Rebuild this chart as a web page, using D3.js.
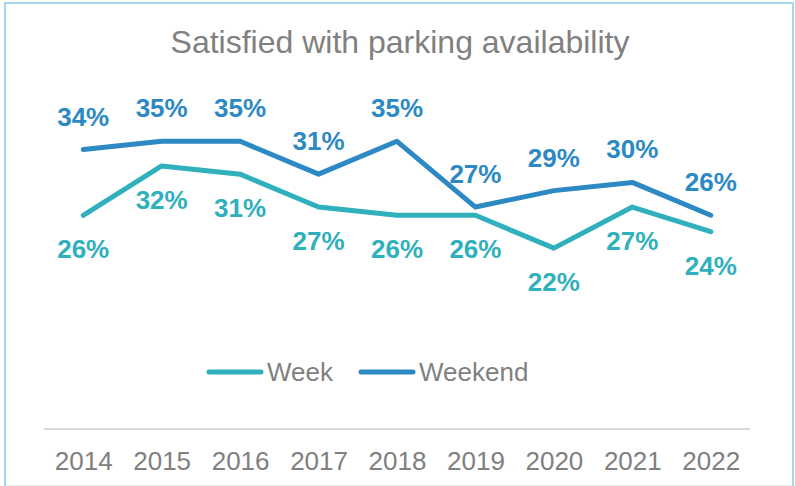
<!DOCTYPE html>
<html>
<head>
<meta charset="utf-8">
<script src="https://cdn.jsdelivr.net/npm/d3@7"></script>
<style>
  html, body { margin: 0; padding: 0; background: #fff; }
  svg { display: block; font-family: "Liberation Sans", Arial, sans-serif; }
</style>
</head>
<body>
<svg id="chart" width="795" height="486"></svg>
<script>
// 数据
var years = ["2014", "2015", "2016", "2017", "2018", "2019", "2020", "2021", "2022"];
var week = [26, 32, 31, 27, 26, 26, 22, 27, 24];
var weekend = [34, 35, 35, 31, 35, 27, 29, 30, 26];
// label above (1) or below (0) the point
var weekPos = [0, 0, 0, 0, 0, 0, 0, 0, 0];
var weekendPos = [1, 1, 1, 1, 1, 1, 1, 1, 1];

var series = [
  { name: "Week", values: week, pos: weekPos, color: "#2FB0BC" },
  { name: "Weekend", values: weekend, pos: weekendPos, color: "#2C89C3" }
];

var svg = d3.select("#chart");

// 边框
svg.append("rect")
  .attr("x", 5).attr("y", 3)
  .attr("width", 788).attr("height", 490)
  .attr("fill", "none")
  .attr("stroke", "#A6D5EE")
  .attr("stroke-width", 2);
svg.append("line")
  .attr("x1", 6).attr("x2", 792)
  .attr("y1", 485.5).attr("y2", 485.5)
  .attr("stroke", "#eeeeee");

// 比例尺
var xScale = d3.scalePoint()
  .domain(years)
  .range([44, 750])
  .padding(0.5);

var yScale = d3.scaleLinear()
  .domain([0, 50])
  .range([429, 18]);

// 标题
svg.append("text")
  .attr("x", 400).attr("y", 53)
  .attr("text-anchor", "middle")
  .attr("font-size", 32)
  .attr("fill", "#808080")
  .text("Satisfied with parking availability");

// x轴
var xAxis = svg.append("g")
  .attr("transform", "translate(0,429)")
  .call(d3.axisBottom(xScale).tickSize(0).tickPadding(0));
xAxis.select(".domain")
  .attr("d", "M44,0H750")
  .attr("stroke", "#D9D9D9")
  .attr("stroke-width", 2);
xAxis.selectAll("text")
  .attr("dy", null)
  .attr("y", 41)
  .attr("font-size", 26)
  .attr("font-family", "Liberation Sans, Arial, sans-serif")
  .attr("fill", "#808080");

// 折线
var lineFunction = d3.line()
  .x(function (d, i) { return xScale(years[i]); })
  .y(function (d) { return yScale(d); });

series.forEach(function (s) {
  svg.append("path")
    .datum(s.values)
    .attr("d", lineFunction)
    .attr("fill", "none")
    .attr("stroke", s.color)
    .attr("stroke-width", 5)
    .attr("stroke-linecap", "round")
    .attr("stroke-linejoin", "round");

  svg.selectAll(null)
    .data(s.values)
    .enter()
    .append("text")
    .attr("x", function (d, i) { return xScale(years[i]); })
    .attr("y", function (d, i) { return yScale(d) + (s.pos[i] ? -24 : 43); })
    .attr("text-anchor", "middle")
    .attr("font-size", 26)
    .attr("font-weight", "bold")
    .attr("fill", s.color)
    .text(function (d) { return d + "%"; });
});

// 图例
var legendX = [207, 359];
var legend = svg.selectAll(".legend")
  .data(series)
  .enter()
  .append("g")
  .attr("transform", function (d, i) { return "translate(" + legendX[i] + ",372)"; });
legend.append("line")
  .attr("x1", 2).attr("x2", 54)
  .attr("y1", 0).attr("y2", 0)
  .attr("stroke", function (d) { return d.color; })
  .attr("stroke-width", 5)
  .attr("stroke-linecap", "round");
legend.append("text")
  .attr("x", 60).attr("y", 9)
  .attr("font-size", 26)
  .attr("fill", "#808080")
  .text(function (d) { return d.name; });
</script>
</body>
</html>
